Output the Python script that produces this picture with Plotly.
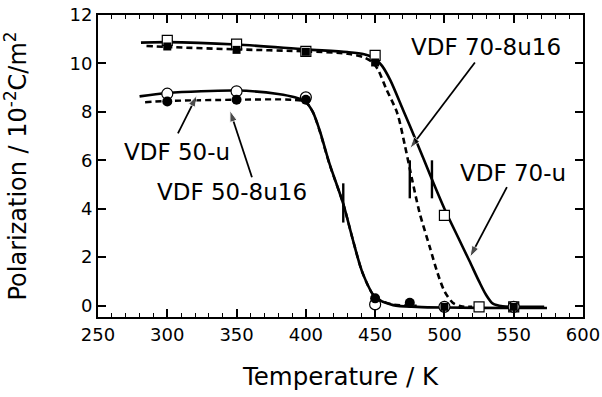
import plotly.graph_objects as go

# ---- measured data points ----
u70_x = [300, 350, 400, 450, 500, 525, 550]
u70_y = [10.95, 10.8, 10.5, 10.33, 3.73, -0.05, -0.05]
s70_x = [300, 350, 400, 450, 500, 550]
s70_y = [10.7, 10.56, 10.48, 10.04, -0.05, -0.05]
u50_x = [300, 350, 400, 450, 500, 550]
u50_y = [8.75, 8.85, 8.6, 0.05, -0.05, -0.05]
s50_x = [300, 350, 400, 450, 475]
s50_y = [8.43, 8.5, 8.5, 0.3, 0.12]

# ---- fitted curves ----
c70u_x = [281, 300, 350, 400, 430, 442, 450, 455, 461, 470, 480, 490, 500, 510, 518, 525, 530, 535, 542, 550, 572]
c70u_y = [10.86, 10.88, 10.78, 10.58, 10.47, 10.38, 10.2, 9.9, 9.3, 8.1, 6.75, 5.35, 4.0, 2.8, 1.85, 1.0, 0.45, 0.08, -0.03, -0.05, -0.05]
c70s_x = [285, 300, 350, 400, 430, 442, 448, 452, 458, 466, 471.5, 476.5, 482, 489.5, 495, 500, 506, 512, 520]
c70s_y = [10.72, 10.68, 10.58, 10.5, 10.4, 10.25, 10.05, 9.75, 8.95, 7.94, 6.6, 5.25, 3.85, 2.4, 1.35, 0.6, 0.12, -0.03, -0.05]
c50u_x = [280, 300, 350, 380, 392, 400, 405, 410, 417, 427, 434, 441, 450, 463, 480, 500, 550, 574]
c50u_y = [8.64, 8.78, 8.88, 8.74, 8.6, 8.4, 8.0, 7.23, 5.87, 4.2, 2.7, 1.34, 0.35, 0.02, -0.05, -0.08, -0.1, -0.1]
c50s_x = [284, 300, 350, 390, 400, 405, 410, 417, 427, 434, 441, 450, 463, 480]
c50s_y = [8.4, 8.45, 8.5, 8.5, 8.4, 8.0, 7.2, 5.85, 4.2, 2.7, 1.34, 0.35, 0.05, 0.0]

# ---- Tc markers (short vertical bars) ----
tc_x = [427, 475, 491]
tc_lo = [3.43, 4.43, 4.43]
tc_hi = [5.05, 6.0, 6.0]

# ---- labels ----
labels = ["VDF 50-u", "VDF 50-8u16", "VDF 70-8u16", "VDF 70-u"]
label_x = [307, 346.7, 530, 549.4]
label_y = [6.33, 4.68, 10.66, 5.46]
arrow_tail_x = [307.7, 361.1, 522, 545.1]
arrow_tail_y = [7.11, 5.30, 10.04, 4.89]
arrow_tip_x = [321.4, 345.2, 475.1, 518.4]
arrow_tip_y = [8.68, 8.06, 6.49, 2.0]

FONT = "DejaVu Sans"
fig = go.Figure()

curve_line = dict(color="black", width=2.6, shape="spline", smoothing=0.8)
fig.add_trace(go.Scatter(x=c70u_x, y=c70u_y, mode="lines", line=curve_line))
fig.add_trace(go.Scatter(x=c70s_x, y=c70s_y, mode="lines", line=dict(curve_line, dash="6px,4px")))
fig.add_trace(go.Scatter(x=c50u_x, y=c50u_y, mode="lines", line=curve_line))
fig.add_trace(go.Scatter(x=c50s_x, y=c50s_y, mode="lines", line=dict(curve_line, width=2.4, dash="6px,4px")))

# Tc bars
for i in range(len(tc_x)):
    fig.add_trace(go.Scatter(x=[tc_x[i], tc_x[i]], y=[tc_lo[i], tc_hi[i]], mode="lines",
                             line=dict(color="black", width=2.4)))

# markers: open first, filled on top
fig.add_trace(go.Scatter(x=u70_x, y=u70_y, mode="markers",
                         marker=dict(symbol="square", size=10, color="white", line=dict(color="black", width=1.2))))
fig.add_trace(go.Scatter(x=u50_x, y=u50_y, mode="markers",
                         marker=dict(symbol="circle", size=11, color="white", line=dict(color="black", width=1.2))))
fig.add_trace(go.Scatter(x=s70_x, y=s70_y, mode="markers",
                         marker=dict(symbol="square", size=8, color="black", line=dict(color="black", width=0))))
fig.add_trace(go.Scatter(x=s50_x, y=s50_y, mode="markers",
                         marker=dict(symbol="circle", size=10, color="black", line=dict(color="black", width=0))))

# arrows (line + arrowhead marker at the tip)
for i in range(len(labels)):
    fig.add_trace(go.Scatter(x=[arrow_tail_x[i], arrow_tip_x[i]], y=[arrow_tail_y[i], arrow_tip_y[i]],
                             mode="lines+markers", line=dict(color="black", width=1.8),
                             marker=dict(symbol="arrow", size=[0, 12], angleref="previous", color="black")))

anns = []
for i in range(len(labels)):
    anns.append(dict(x=label_x[i], y=label_y[i], xref="x", yref="y", text=labels[i], showarrow=False,
                     font=dict(family=FONT, size=23, color="black")))

fig.update_layout(
    width=602, height=397,
    margin=dict(l=98, r=19, t=15, b=80),
    paper_bgcolor="white", plot_bgcolor="white",
    showlegend=False,
    font=dict(family=FONT, size=18, color="black"),
    annotations=anns,
)
fig.update_xaxes(range=[250, 600], tickmode="array", tickvals=[250, 300, 350, 400, 450, 500, 550, 600],
                 ticks="inside", ticklen=8, tickwidth=1.6, tickcolor="black",
                 minor=dict(dtick=10, ticks="inside", ticklen=4, tickwidth=1.2, tickcolor="black"),
                 showline=True, linecolor="black", linewidth=2, mirror="ticks", showgrid=False, zeroline=False,
                 tickfont=dict(family=FONT, size=18), automargin=False, ticklabeloverflow="allow",
                 title=dict(text="Temperature / K", font=dict(family=FONT, size=24.5), standoff=24))
fig.update_yaxes(range=[-0.47, 12], tickmode="array", tickvals=[0, 2, 4, 6, 8, 10, 12],
                 ticks="inside", ticklen=8, tickwidth=1.6, tickcolor="black",
                 showline=True, linecolor="black", linewidth=2, mirror="ticks", showgrid=False, zeroline=False,
                 tickfont=dict(family=FONT, size=18), automargin=False, ticklabeloverflow="allow",
                 title=dict(text="Polarization / 10<sup>-2</sup>C/m<sup>2</sup>", font=dict(family=FONT, size=24), standoff=42))

# remove the default 8px page margin so the figure fills the window exactly
fig.write_html("out.html", config={"displayModeBar": False},
               post_script="document.body.style.margin='0px';")
